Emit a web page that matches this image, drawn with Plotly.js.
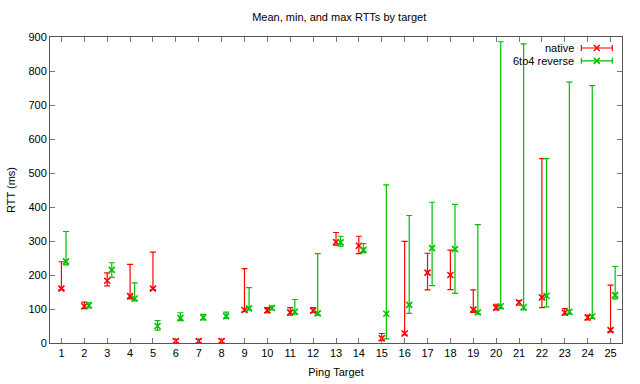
<!DOCTYPE html>
<html><head><meta charset="utf-8">
<script src="https://cdn.plot.ly/plotly-3.0.1.min.js"></script>
<style>html,body{margin:0;padding:0;background:#fff}#chart{width:640px;height:384px}</style>
</head><body><div id="chart"></div>
<script>
const targets = [1,2,3,4,5,6,7,8,9,10,11,12,13,14,15,16,17,18,19,20,21,22,23,24,25];
const nativeMean = [160,108,183,138,160,6,6,6,97,96,90,95,297,286,14,28,207,200,98,104,120,134,89,75,38];
const nativeMin  = [157,101,168,130,157,1,1,1,92,89,82,89,288,263,7,24,156,157,90,97,111,104,83,68,33];
const nativeMax  = [239,120,206,231,267,11,11,11,219,104,104,104,325,314,28,299,264,273,156,114,125,542,101,82,170];
const v6Mean = [240,111,215,131,50,74,75,79,102,103,92,87,296,274,86,112,279,276,90,108,105,139,92,78,141];
const v6Min  = [230,103,193,124,38,66,68,72,97,97,85,82,285,266,12,87,169,146,85,101,97,106,85,72,130];
const v6Max  = [328,118,236,177,66,89,84,91,163,109,128,263,314,292,465,375,414,408,348,886,880,542,767,757,225];
const seriesNames = ['native','6to4 reverse'];
const colors = ['#ff0000','#00c000'];
const offset = 0.2;

function trace(x, mean, mn, mx, color, name){
  return {
    type:'scatter', mode:'markers', name:name, x:x, y:mean, showlegend:false,
    marker:{symbol:'x-thin-open', size:6, color:color, line:{color:color, width:1.6}},
    error_y:{type:'data', symmetric:false,
      array: mx.map((v,i)=>v-mean[i]), arrayminus: mean.map((v,i)=>v-mn[i]),
      color:color, thickness:1.2, width:3},
    hoverinfo:'skip'
  };
}
const data = [
  trace(targets, nativeMean, nativeMin, nativeMax, colors[0], seriesNames[0]),
  trace(targets.map(t=>t+offset), v6Mean, v6Min, v6Max, colors[1], seriesNames[1])
];
// legend keys (gnuplot style: text left, sample right)
const keyY = [0.964, 0.922];
seriesNames.forEach((n,i)=>{
  data.push({type:'scatter', mode:'markers', x:[0.956], y:[keyY[i]], xaxis:'x2', yaxis:'y2', showlegend:false, hoverinfo:'skip',
    marker:{symbol:'x-thin-open', size:6, color:colors[i], line:{color:colors[i], width:1.6}},
    error_x:{type:'data', array:[0.027], color:colors[i], thickness:1.2, width:3}});
});
const font = {family:'Liberation Sans, Arial, sans-serif', size:11, color:'#000'};
const layout = {
  width:640, height:384,
  margin:{l:50, r:18, t:37, b:41},
  paper_bgcolor:'#fff', plot_bgcolor:'#fff',
  font:font, showlegend:false,
  title:{text:'Mean, min, and max RTTs by target', font:{family:font.family, size:11, color:'#000'}, x:0.53, xanchor:'center', y:0.955, yanchor:'middle'},
  xaxis:{range:[0.5,25.5], tickvals:targets, ticktext:targets.map(String), ticks:'inside', ticklen:5, tickcolor:'#777',
    showline:true, linecolor:'#555', linewidth:1, mirror:'ticks', showgrid:false, zeroline:false,
    title:{text:'Ping Target', font:font, standoff:10}, tickfont:font},
  yaxis:{range:[0,900], dtick:100, ticks:'inside', ticklen:5, tickcolor:'#777',
    showline:true, linecolor:'#555', linewidth:1, mirror:'ticks', showgrid:false, zeroline:false,
    title:{text:'RTT (ms)', font:font, standoff:10}, tickfont:font},
  xaxis2:{overlaying:'x', range:[0,1], visible:false, fixedrange:true},
  yaxis2:{overlaying:'y', range:[0,1], visible:false, fixedrange:true},
  annotations: seriesNames.map((n,i)=>({xref:'paper', yref:'paper', x:0.92, y:keyY[i], xanchor:'right', yanchor:'middle', text:n, showarrow:false, font:{family:font.family, size:11, color:'#000'}}))
};
Plotly.newPlot('chart', data, layout, {staticPlot:true, displayModeBar:false});
</script></body></html>
